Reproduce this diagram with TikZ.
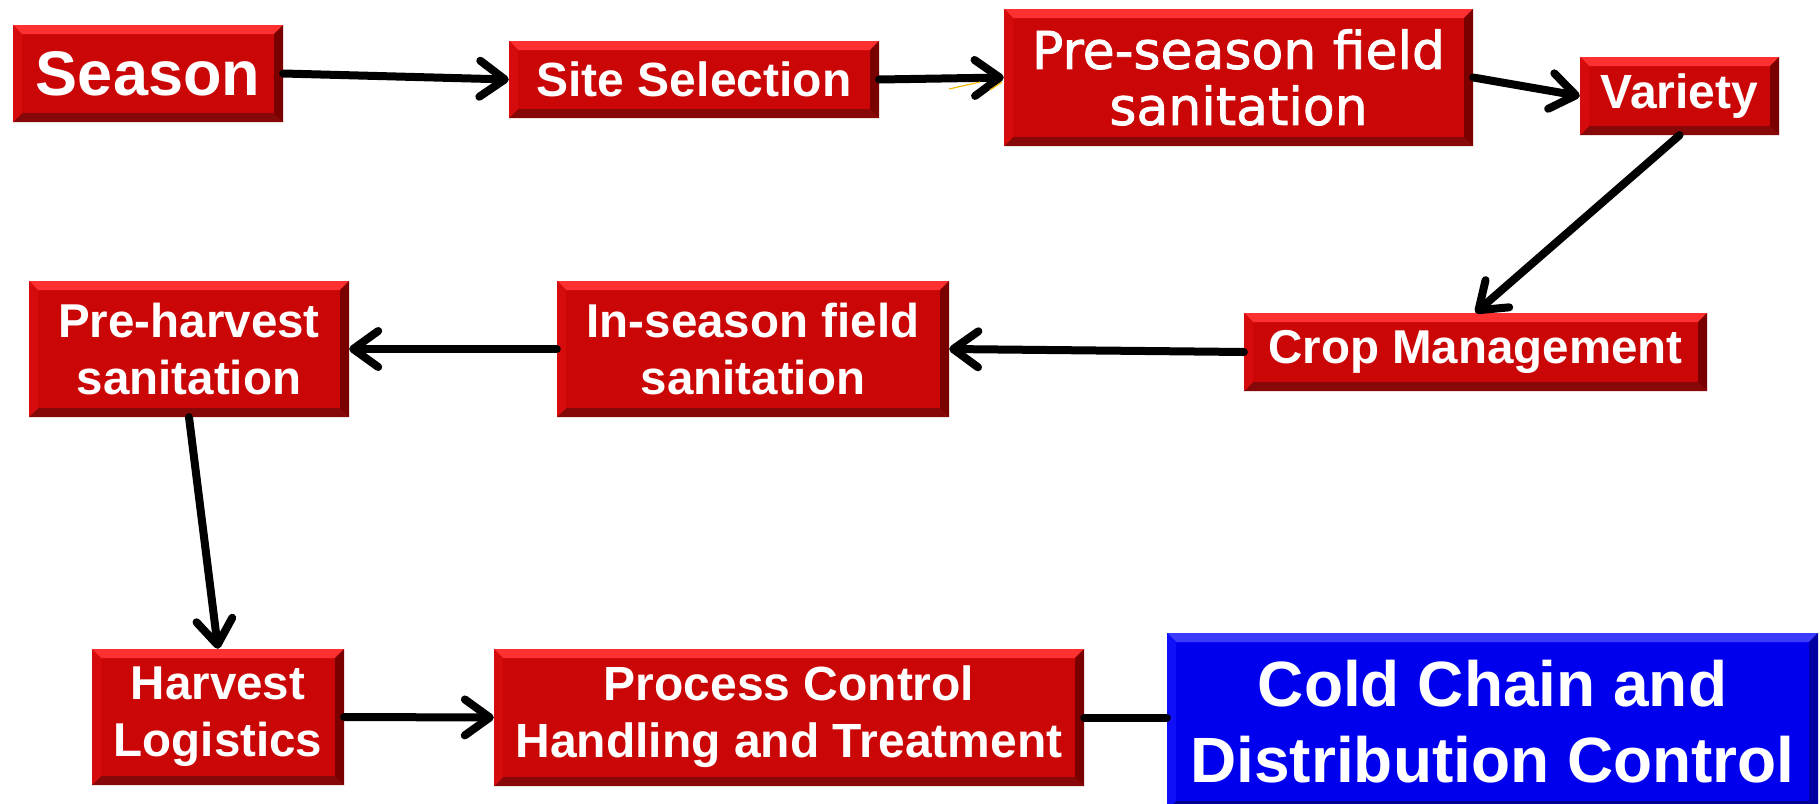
\documentclass[tikz,border=0pt]{standalone}
\usepackage{fontspec}
\setmainfont{Liberation Sans}
\newfontfamily\dvfont[FakeBold=1.5]{DejaVu Sans}
\usetikzlibrary{arrows.meta,calc}
\definecolor{rface}{HTML}{CB0606}
\definecolor{rtop}{HTML}{FF3030}
\definecolor{rleft}{HTML}{D60C0C}
\definecolor{rright}{HTML}{7A0000}
\definecolor{rbot}{HTML}{860808}
\definecolor{bface}{HTML}{0000EE}
\definecolor{btop}{HTML}{3C3CFF}
\definecolor{bleft}{HTML}{1010F8}
\definecolor{bright}{HTML}{0000A0}
\definecolor{bbot}{HTML}{000090}
\definecolor{stray}{HTML}{F5B800}
\tikzset{
  bevelbox/.style n args={5}{
    rectangle, fill=#1, inner sep=0pt, text=white, align=center,
    path picture={
      \fill[#2] (path picture bounding box.north west) -- (path picture bounding box.north east)
        -- ([shift={(-9pt,-9pt)}]path picture bounding box.north east)
        -- ([shift={(9pt,-9pt)}]path picture bounding box.north west) -- cycle;
      \fill[#5] (path picture bounding box.south west) -- (path picture bounding box.south east)
        -- ([shift={(-9pt,9pt)}]path picture bounding box.south east)
        -- ([shift={(9pt,9pt)}]path picture bounding box.south west) -- cycle;
      \fill[#3] (path picture bounding box.north west) -- (path picture bounding box.south west)
        -- ([shift={(9pt,9pt)}]path picture bounding box.south west)
        -- ([shift={(9pt,-9pt)}]path picture bounding box.north west) -- cycle;
      \fill[#4] (path picture bounding box.north east) -- (path picture bounding box.south east)
        -- ([shift={(-9pt,9pt)}]path picture bounding box.south east)
        -- ([shift={(-9pt,-9pt)}]path picture bounding box.north east) -- cycle;
    }
  },
  redbox/.style={bevelbox={rface}{rtop}{rleft}{rright}{rbot}},
  bluebox/.style={bevelbox={bface}{btop}{bleft}{bright}{bbot}},
  conn/.style={line width=8pt, line cap=round,
    -{Straight Barb[length=25pt, width=36pt, line width=8pt, round]}},
  plainconn/.style={line width=8pt, line cap=round},
  bigfont/.style={font=\fontsize{63}{70}\selectfont\bfseries},
  midfont/.style={font=\fontsize{47.5}{57}\selectfont\bfseries},
  smfont/.style={font=\fontsize{48}{57}\selectfont\bfseries},
  dvstyle/.style={font=\dvfont\fontsize{52}{56}\selectfont},
  coldfont/.style={font=\fontsize{64}{76}\selectfont\bfseries},
}
\begin{document}
\begin{tikzpicture}[x=1pt,y=-1pt]
\useasboundingbox (0,0) rectangle (1820,803);
\clip (0,0) rectangle (1820,803);
\fill[white] (0,0) rectangle (1820,803);

\node[redbox, bigfont, minimum width=270pt, minimum height=97pt] (season) at (148,73.5) {Season};
\node[redbox, smfont, minimum width=370pt, minimum height=77pt] (site) at (694,79.5) {Site Selection};
\node[redbox, dvstyle, minimum width=469pt, minimum height=137pt] (pre) at (1238.5,77.5) {Pre-season field\\sanitation};
\node[redbox, smfont, minimum width=199pt, minimum height=78pt] (variety) at (1679.5,96) {Variety};
\node[redbox, midfont, minimum width=463pt, minimum height=78pt] (crop) at (1475.5,352) {Crop Management};
\node[redbox, midfont, minimum width=392pt, minimum height=136pt] (insea) at (753,349) {In-season field\\sanitation};
\node[redbox, midfont, minimum width=320pt, minimum height=136pt] (preh) at (189,349) {Pre-harvest\\sanitation};
\node[redbox, midfont, minimum width=252pt, minimum height=136pt] (harv) at (218,717) {\raisebox{-4pt}{\begin{tabular}{@{}c@{}}Harvest\\Logistics\end{tabular}}};
\node[redbox, smfont, minimum width=590pt, minimum height=137pt] (proc) at (789,717.5) {\raisebox{-4pt}{\begin{tabular}{@{}c@{}}Process Control\\Handling and Treatment\end{tabular}}};
\node[bluebox, coldfont, minimum width=651pt, minimum height=177pt] (cold) at (1492.5,721.5) {Cold Chain and\\Distribution Control};

\draw[conn] (season.east) -- (site.west);
\draw[conn] (site.east) -- (pre.west);
\draw[conn] (pre.east) -- (variety.west);
\draw[conn] (variety.south) -- (crop.north);
\draw[conn] (crop.west) -- (insea.east);
\draw[conn] (insea.west) -- (preh.east);
\draw[conn] (preh.south) -- (harv.north);
\draw[conn] (harv.east) -- (proc.west);
\draw[plainconn] (proc.east) -- (proc.east -| cold.west);

\draw[stray, line width=1.2pt] (949,89) -- (980,82) (990,90) -- (1002,82);
\end{tikzpicture}
\end{document}
